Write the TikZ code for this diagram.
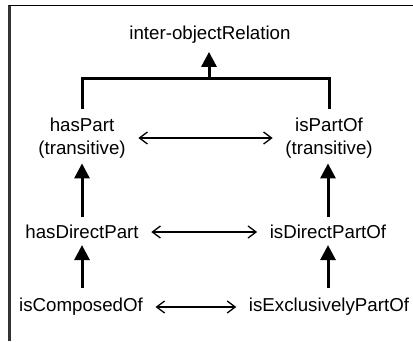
\documentclass[tikz,border=0pt]{standalone}
\usepackage{fontspec}
\setmainfont{Liberation Sans}
\usetikzlibrary{arrows.meta}

\begin{document}
\begin{tikzpicture}[x=1pt, y=-1pt,
    rel/.style={inner sep=2pt, font=\fontsize{18.7}{23}\selectfont, align=center},
    isa/.style={-{Triangle[length=15pt, width=15pt]}, line width=3pt},
    inv/.style={{Straight Barb[length=8pt, width=12pt]}-{Straight Barb[length=8pt, width=12pt]},
        line width=1.3pt, shorten <=10.5pt, shorten >=10.5pt}]
    \useasboundingbox (0,0) rectangle (413,341);
    % frame
    \draw[line width=2.6pt, black!80] (9.5,5) -- (9.5,341);
    \draw[line width=1pt] (8.5,5.5) -- (413,5.5);

    % relations
    \node[rel] (ior) at (210,35) {inter-objectRelation};
    \node[rel] (hp) at (82,138) {hasPart\\(transitive)};
    \node[rel] (ipo) at (329,138) {isPartOf\\(transitive)};
    \node[rel] (hdp) at (82,232) {hasDirectPart};
    \node[rel] (idp) at (328,232) {isDirectPartOf};
    \node[rel] (ico) at (81,307) {isComposedOf};
    \node[rel] (iep) at (329,307) {isExclusivelyPartOf};

    % subproperty links
    \coordinate (join) at (209,78);
    \draw[line width=3pt] ([yshift=7pt]hp.north) |- (join) -| ([yshift=7pt]ipo.north);
    \draw[isa, shorten >=6pt] (join) -- (join |- ior.south);
    \draw[isa, shorten <=6pt, shorten >=3pt] (hdp.north) -- (hp.south);
    \draw[isa, shorten <=6pt, shorten >=3pt] (idp.north) -- (idp.north |- ipo.south);
    \draw[isa, shorten <=8pt, shorten >=4pt] (hdp.south |- ico.north) -- (hdp.south);
    \draw[isa, shorten <=8pt, shorten >=4pt] (idp.south |- iep.north) -- (idp.south);

    % inverse pairs
    \draw[inv] (hp.east) -- (ipo.west);
    \draw[inv] (hdp.east) -- (idp.west);
    \draw[inv] (ico.east) -- (iep.west);
\end{tikzpicture}
\end{document}
